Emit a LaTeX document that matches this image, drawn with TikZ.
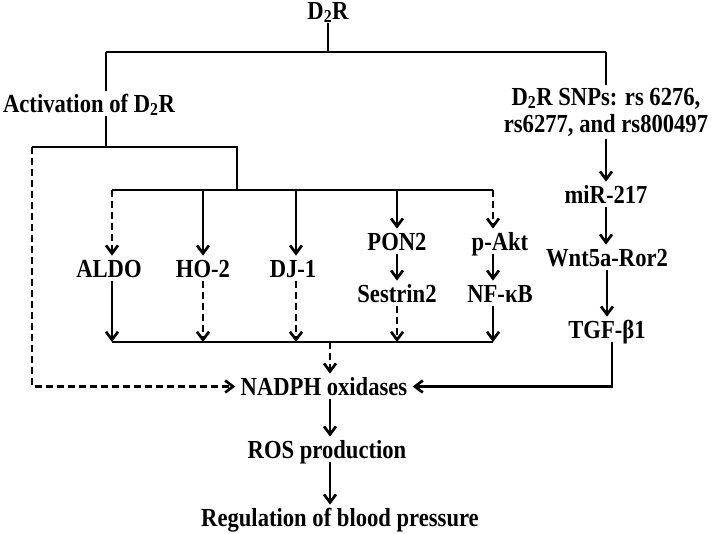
\documentclass[tikz,border=0pt]{standalone}
\usepackage{fontspec}
\setmainfont{Liberation Serif}[FakeStretch=0.87]
\usetikzlibrary{arrows.meta}
\tikzset{
  txt/.style={font=\bfseries\fontsize{26}{27}\selectfont, inner xsep=4pt, inner ysep=2pt},
  lbl/.style={txt, anchor=base, text height=18pt, text depth=1pt},
  arr/.style={-{Straight Barb[length=8pt,width=12pt]}},
  dsh/.style={dash pattern=on 7pt off 4pt}
}
\begin{document}
\begin{tikzpicture}[x=1pt, y=-1pt, line width=2.7pt]
      \useasboundingbox (0,0) rectangle (714,533);
      \node[lbl] (d2r) at (328,19) {D\textsubscript{2}R};
      \node[lbl] (act) at (89,112) {Activation of D\textsubscript{2}R};
      \node[txt, align=center] (snp) at (606,112) {D\textsubscript{2}R SNPs: rs 6276,\\ rs6277, and rs800497};
      \node[lbl] (aldo) at (109,277) {ALDO};
      \node[lbl] (ho2) at (203,277) {HO-2};
      \node[lbl] (dj1) at (293,277) {DJ-1};
      \node[lbl] (pon2) at (397,250) {PON2};
      \node[lbl] (sest) at (397,302) {Sestrin2};
      \node[lbl] (pakt) at (500,250) {p-Akt};
      \node[lbl] (nfkb) at (500,302) {NF-κB};
      \node[lbl] (mir) at (606,203) {miR-217};
      \node[lbl] (wnt) at (607,266) {Wnt5a-Ror2};
      \node[lbl] (tgf) at (607,338) {TGF-β1};
      \node[lbl] (nadph) at (324,395) {NADPH oxidases};
      \node[lbl] (ros) at (327,458) {ROS production};
      \node[lbl] (reg) at (340,526) {Regulation of blood pressure};
      \coordinate (tl) at (106,52);
      \coordinate (tr) at (606,52);
      \coordinate (sl) at (32,147);
      \coordinate (sm) at (106,147);
      \coordinate (sr) at (237,147);
      \coordinate (ir) at (237,190);
      \coordinate (b1) at (112,190);
      \coordinate (b3) at (296,190);
      \coordinate (b5) at (493,190);
      \coordinate (bl) at (112,342);
      \coordinate (bm) at (330,342);
      \coordinate (br) at (493,342);
      \draw (d2r.south) -- (d2r.south |- tl);
      \draw (tl) -- (tr);
      \draw (tl) -- (tl |- act.north);
      \draw (tl |- act.south) -- (sm);
      \draw (sl) -- (sr) -- (ir);
      \draw (b1) -- (b5);
      \draw[dsh, arr] (b1) -- (b1 |- aldo.north);
      \draw[arr] (ho2.north |- b1) -- (ho2.north);
      \draw[arr] (b3) -- (b3 |- dj1.north);
      \draw[arr] (pon2.north |- b1) -- (pon2.north);
      \draw[dsh, arr] (b5) -- (b5 |- pakt.north);
      \draw[arr] (pon2.south) -- (sest.north);
      \draw[arr] (pakt.south -| b5) -- (nfkb.north -| b5);
      \draw[arr] (aldo.south -| bl) -- (bl);
      \draw[dsh, arr] (ho2.south) -- (ho2.south |- bl);
      \draw[dsh, arr] (dj1.south -| b3) -- (b3 |- bl);
      \draw[dsh, arr] (sest.south) -- (sest.south |- bl);
      \draw[arr] (nfkb.south -| br) -- (br);
      \draw (bl) -- (br);
      \draw[dsh, arr] (bm) -- (bm |- nadph.north);
      \draw[dsh, arr] (sl) |- (nadph.west);
      \draw (tr) -- (tr |- snp.north);
      \draw[arr] (snp.south -| tr) -- (mir.north);
      \draw[arr] (mir.south) -- (mir.south |- wnt.north);
      \draw[arr] (wnt.south) -- (wnt.south |- tgf.north);
      \draw[arr] ([xshift=5pt]tgf.south) |- (nadph.east);
      \draw[arr] (nadph.south -| bm) -- (bm |- ros.north);
      \draw[arr] (ros.south -| bm) -- (bm |- reg.north);
\end{tikzpicture}
\end{document}
